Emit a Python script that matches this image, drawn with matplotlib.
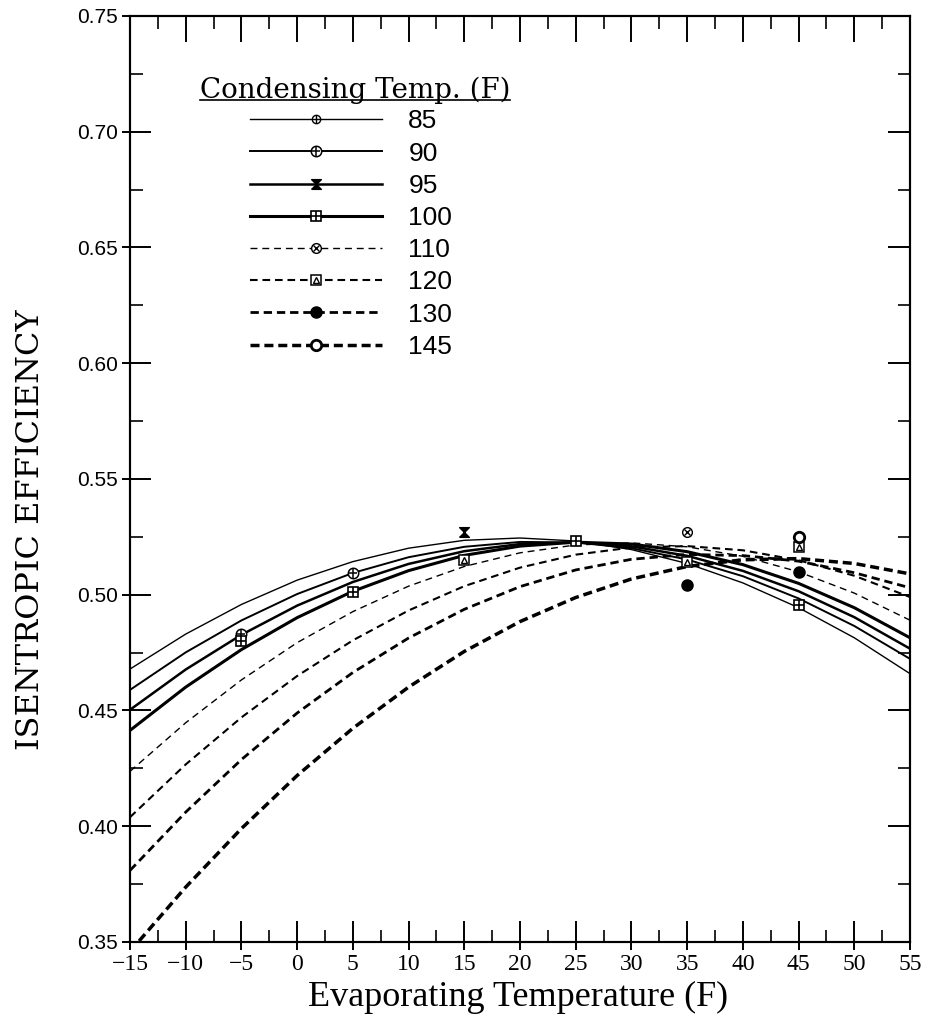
import matplotlib.pyplot as plt
from matplotlib.lines import Line2D
from matplotlib.ticker import MultipleLocator

plt.rcParams['lines.scale_dashes'] = False

# evaporating temperature grid (F) where the fitted curves are sampled
evap_temp = [-15, -10, -5, 0, 5, 10, 15, 20, 25, 30, 35, 40, 45, 50, 55]
cond_labels = ['85', '90', '95', '100', '110', '120', '130', '145']

# fitted isentropic efficiency per condensing temperature
eff_85 = [0.4679, 0.4830, 0.4958, 0.5063, 0.5143, 0.5201, 0.5235, 0.5245,
          0.5232, 0.5195, 0.5135, 0.5051, 0.4944, 0.4814, 0.4659]
eff_90 = [0.4589, 0.4751, 0.4889, 0.5003, 0.5094, 0.5162, 0.5207, 0.5228,
          0.5226, 0.5201, 0.5152, 0.5080, 0.4984, 0.4865, 0.4723]
eff_95 = [0.4503, 0.4677, 0.4827, 0.4953, 0.5055, 0.5133, 0.5188, 0.5219,
          0.5226, 0.5209, 0.5168, 0.5103, 0.5015, 0.4903, 0.4767]
eff_100 = [0.4414, 0.4601, 0.4763, 0.4901, 0.5015, 0.5104, 0.5170, 0.5210,
           0.5227, 0.5219, 0.5186, 0.5130, 0.5049, 0.4944, 0.4814]
eff_110 = [0.4237, 0.4447, 0.4632, 0.4793, 0.4927, 0.5037, 0.5122, 0.5181,
           0.5215, 0.5224, 0.5207, 0.5166, 0.5099, 0.5007, 0.4890]
eff_120 = [0.4039, 0.4267, 0.4470, 0.4649, 0.4803, 0.4932, 0.5037, 0.5117,
           0.5173, 0.5204, 0.5210, 0.5192, 0.5149, 0.5082, 0.4990]
eff_130 = [0.3809, 0.4061, 0.4288, 0.4489, 0.4664, 0.4813, 0.4937, 0.5035,
           0.5107, 0.5153, 0.5174, 0.5169, 0.5145, 0.5095, 0.5030]
eff_145 = [0.3459, 0.3737, 0.3990, 0.4219, 0.4423, 0.4601, 0.4755, 0.4884,
           0.4988, 0.5068, 0.5122, 0.5151, 0.5156, 0.5135, 0.5090]

# measured test points
pts_x_85, pts_y_85 = [], []
pts_x_90, pts_y_90 = [-5, 5], [0.483, 0.5095]
pts_x_95, pts_y_95 = [15], [0.527]
pts_x_100, pts_y_100 = [-5, 5, 25, 45], [0.480, 0.501, 0.523, 0.4955]
pts_x_110, pts_y_110 = [35], [0.527]
pts_x_120, pts_y_120 = [15, 35, 45], [0.515, 0.514, 0.5207]
pts_x_130, pts_y_130 = [35, 45], [0.504, 0.510]
pts_x_145, pts_y_145 = [45], [0.525]

curves = [eff_85, eff_90, eff_95, eff_100, eff_110, eff_120, eff_130, eff_145]
pts_x = [pts_x_85, pts_x_90, pts_x_95, pts_x_100, pts_x_110, pts_x_120, pts_x_130, pts_x_145]
pts_y = [pts_y_85, pts_y_90, pts_y_95, pts_y_100, pts_y_110, pts_y_120, pts_y_130, pts_y_145]

hourglass = [(-1, -1), (1, -1), (-1, 1), (1, 1), (-1, -1)]

# line width, dash pattern, and stacked marker layers (marker, face, size, edge width)
line_styles = [
    (1.0, None, [('o', 'white', 6, 1.0), ('+', 'none', 6, 1.0)]),
    (1.4, None, [('o', 'white', 7.5, 1.1), ('|', 'none', 7.5, 1.1), ('_', 'none', 6, 1.1)]),
    (1.8, None, [(hourglass, 'black', 7, 1.0)]),
    (2.2, None, [('s', 'white', 7.5, 1.2), ('+', 'none', 7.5, 1.2)]),
    (1.0, (5, 3.5), [('o', 'white', 7, 1.0), ('x', 'none', 5, 1.0)]),
    (1.5, (5.5, 3.5), [('s', 'white', 7.5, 1.1), ('^', 'none', 4.5, 1.0)]),
    (2.0, (6, 3.5), [('o', 'black', 8, 1.0)]),
    (2.5, (6.5, 3.5), [('o', 'white', 7.5, 2.0)]),
]

fig = plt.figure(figsize=(9.32, 10.23), dpi=100)
ax = fig.add_axes([0.1395, 0.0792, 0.8369, 0.9052])

handles = []
for vals, px, py, (lw, dash, layers) in zip(curves, pts_x, pts_y, line_styles):
    if dash is None:
        ax.plot(evap_temp, vals, color='black', lw=lw, solid_capstyle='butt')
        proxy = Line2D([], [], color='black', lw=lw)
    else:
        ax.plot(evap_temp, vals, color='black', lw=lw, dashes=dash)
        proxy = Line2D([], [], color='black', lw=lw, dashes=dash)
    group = [proxy]
    for mk, face, size, mew in layers:
        ax.plot(px, py, linestyle='none', marker=mk, ms=size, mfc=face,
                mec='black', mew=mew, zorder=4)
        group.append(Line2D([], [], linestyle='none', marker=mk, ms=size,
                            mfc=face, mec='black', mew=mew))
    handles.append(tuple(group))

ax.set_xlim(-15, 55)
ax.set_ylim(0.35, 0.75)

xt = list(range(-15, 56, 5))
yt = [0.35, 0.40, 0.45, 0.50, 0.55, 0.60, 0.65, 0.70, 0.75]
ax.set_xticks(xt)
ax.set_xticklabels([str(v).replace('-', '\u2212') for v in xt],
                   fontfamily='Liberation Serif', fontsize=17)
ax.set_yticks(yt)
ax.set_yticklabels(['%.2f' % v for v in yt], fontfamily='Liberation Sans', fontsize=15)
ax.xaxis.set_minor_locator(MultipleLocator(2.5))
ax.yaxis.set_minor_locator(MultipleLocator(0.025))
ax.tick_params(which='major', direction='in', length=15, width=1.4, pad=9)
ax.tick_params(which='minor', direction='in', length=9, width=1.2)
for sp in ax.spines.values():
    sp.set_linewidth(1.5)

# short outward stubs on the bottom/left majors, and inward ticks on top/right
sec_b = ax.secondary_xaxis('bottom')
sec_b.set_xticks(xt)
sec_b.tick_params(direction='out', length=6, width=1.4, labelbottom=False)
sec_l = ax.secondary_yaxis('left')
sec_l.set_yticks(yt)
sec_l.tick_params(direction='out', length=6, width=1.4, labelleft=False)
sec_t = ax.secondary_xaxis('top')
sec_t.set_xticks(xt)
sec_t.xaxis.set_minor_locator(MultipleLocator(2.5))
sec_t.tick_params(which='major', direction='in', length=19, width=1.4, labeltop=False)
sec_t.tick_params(which='minor', direction='in', length=9, width=1.2)
sec_r = ax.secondary_yaxis('right')
sec_r.set_yticks(yt)
sec_r.yaxis.set_minor_locator(MultipleLocator(0.025))
sec_r.tick_params(which='major', direction='in', length=16, width=1.4, labelright=False)
sec_r.tick_params(which='minor', direction='in', length=9, width=1.2)
for s in (sec_b, sec_l, sec_t, sec_r):
    for sp in s.spines.values():
        sp.set_linewidth(1.5)

ax.set_xlabel('Evaporating Temperature (F)', fontfamily='Liberation Serif', fontsize=26)
ax.xaxis.set_label_coords(0.497, -0.042)
ax.set_ylabel('ISENTROPIC EFFICIENCY', fontfamily='DejaVu Serif', fontsize=23)
ax.yaxis.set_label_coords(-0.108, 0.445)

leg = ax.legend(handles, cond_labels, loc='upper left', bbox_to_anchor=(0.1538, 0.899),
                frameon=False, borderpad=0, borderaxespad=0, handlelength=5.0,
                handletextpad=1.0, labelspacing=0.31,
                prop={'family': 'Liberation Sans', 'size': 19})

title = ax.text(0.0897, 0.9114, 'Condensing Temp. (F)', transform=ax.transAxes,
                fontfamily='DejaVu Serif', fontsize=20, va='baseline', ha='left')

fig.canvas.draw()
bb = title.get_window_extent()
base_y = ax.transAxes.transform((0, 0.9114))[1] - 2
fig.add_artist(Line2D([bb.x0, bb.x1], [base_y, base_y], color='black', lw=1.2,
                      transform=None))

fig.savefig('out.png', dpi=100)
